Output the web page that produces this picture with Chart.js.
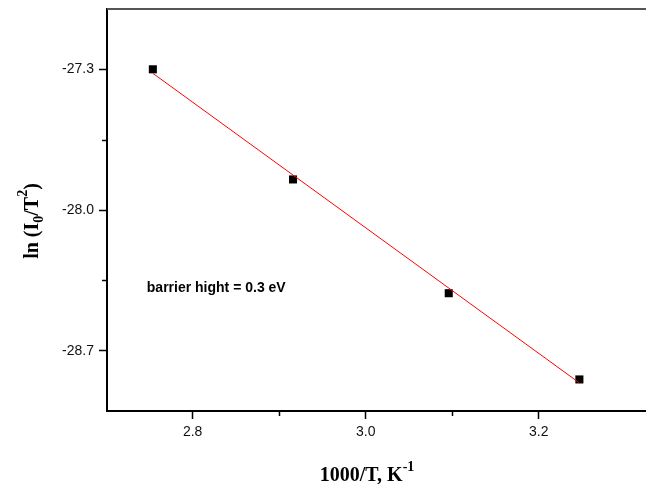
<!DOCTYPE html>
<html>
<head>
<meta charset="utf-8">
<script src="https://cdn.jsdelivr.net/npm/chart.js@4"></script>
<style>
  html, body { margin: 0; padding: 0; background: #fff; overflow: hidden; }
  canvas { display: block; }
</style>
</head>
<body>
<canvas id="arrhenius" width="646" height="484"></canvas>
<script>
// ====================== DATA ======================
const invT = [2.754, 2.916, 3.096, 3.247];          // 1000/T, K^-1
const lnIT = [-27.30, -27.848, -28.414, -28.843];   // ln(I0/T^2)
const fitX = [2.754, 3.247];
const fitY = [-27.32, -28.86];
const xTicks = [2.8, 3.0, 3.2];
const xMinor = [2.9, 3.1];
const yTicks = [-27.3, -28.0, -28.7];
const yMinor = [-27.65, -28.35];
const note = { x: 2.747, y: -28.39, text: "barrier hight = 0.3 eV" };

// ====================== PLUGINS ======================

// minor ticks, top frame line, note and rich axis titles
const decor = {
  id: "decor",
  afterDraw(chart) {
    const { ctx, chartArea, scales } = chart;
    const xs = scales.x, ys = scales.y;
    ctx.save();

    // top frame
    ctx.strokeStyle = "#555";
    ctx.lineWidth = 2;
    ctx.beginPath();
    ctx.moveTo(chartArea.left, chartArea.top);
    ctx.lineTo(chartArea.right, chartArea.top);
    ctx.stroke();

    // minor ticks
    ctx.strokeStyle = "#000";
    ctx.lineWidth = 1.5;
    ctx.beginPath();
    xMinor.forEach((v) => {
      const px = Math.round(xs.getPixelForValue(v)) + 0.5;
      ctx.moveTo(px, chartArea.bottom);
      ctx.lineTo(px, chartArea.bottom + 5);
    });
    yMinor.forEach((v) => {
      const py = Math.round(ys.getPixelForValue(v)) + 0.5;
      ctx.moveTo(chartArea.left, py);
      ctx.lineTo(chartArea.left - 5, py);
    });
    ctx.stroke();

    // note
    ctx.fillStyle = "#000";
    ctx.font = "bold 14px 'Liberation Sans', Arial, sans-serif";
    ctx.textBaseline = "middle";
    ctx.textAlign = "left";
    ctx.fillText(note.text, xs.getPixelForValue(note.x), ys.getPixelForValue(note.y));

    // x title: 1000/T, K^-1
    const big = "bold 20px 'Liberation Serif', 'Times New Roman', serif";
    const small = "bold 14px 'Liberation Serif', 'Times New Roman', serif";
    drawRich(ctx, 367, 481, [
      { t: "1000/T, K", f: big, dy: 0 },
      { t: "-1", f: small, dy: -10 },
    ], 0);

    // y title: ln (I0/T^2)
    drawRich(ctx, 38, 221, [
      { t: "ln (I", f: big, dy: 0 },
      { t: "0", f: small, dy: 5 },
      { t: "/T", f: big, dy: 0 },
      { t: "2", f: small, dy: -11 },
      { t: ")", f: big, dy: 0 },
    ], -Math.PI / 2);

    ctx.restore();
  },
};

// draw a sequence of text pieces centred at (cx, baseline cy)
function drawRich(ctx, cx, cy, parts, rot) {
  ctx.save();
  ctx.translate(cx, cy);
  ctx.rotate(rot);
  ctx.textBaseline = "alphabetic";
  ctx.textAlign = "left";
  let total = 0;
  parts.forEach((p) => {
    ctx.font = p.f;
    total += ctx.measureText(p.t).width;
  });
  let x = -total / 2;
  parts.forEach((p) => {
    ctx.font = p.f;
    ctx.fillText(p.t, x, p.dy);
    x += ctx.measureText(p.t).width;
  });
  ctx.restore();
}

// keep the plot box fixed: no extra room for edge labels
function fixBox(s, size) {
  if (s.isHorizontal()) s.height = size; else s.width = size;
  s.paddingLeft = 0;
  s.paddingRight = 0;
  s.paddingTop = 0;
  s.paddingBottom = 0;
}

// ====================== CHART ======================

const tickFont = { family: "'Liberation Sans', Arial, sans-serif", size: 14 };

new Chart(document.getElementById("arrhenius"), {
  type: "scatter",
  data: {
    datasets: [
      {
        label: "fit",
        data: fitX.map((x, i) => ({ x, y: fitY[i] })),
        showLine: true,
        borderColor: "#ff0000",
        borderWidth: 1,
        pointRadius: 0,
      },
      {
        label: "data",
        data: invT.map((x, i) => ({ x, y: lnIT[i] })),
        pointStyle: "rect",
        pointRadius: 5.7,
        pointBorderWidth: 0,
        backgroundColor: "#000",
        borderColor: "#000",
      },
    ],
  },
  options: {
    responsive: false,
    animation: false,
    devicePixelRatio: 1,
    layout: { autoPadding: false, padding: { top: 9, right: 0, left: 0, bottom: 0 } },
    plugins: { legend: { display: false }, tooltip: { enabled: false } },
    scales: {
      x: {
        type: "linear",
        min: 2.701,
        max: 3.324,
        afterBuildTicks: (s) => { s.ticks = xTicks.map((v) => ({ value: v })); },
        afterFit: (s) => fixBox(s, 73),
        ticks: {
          color: "#111",
          font: tickFont,
          padding: 5,
          callback: (v) => Number(v).toFixed(1),
        },
        grid: { drawOnChartArea: false, tickLength: 8, tickColor: "#000", tickWidth: 1.5 },
        border: { color: "#000", width: 2 },
      },
      y: {
        type: "linear",
        min: -29.0,
        max: -27.0,
        afterBuildTicks: (s) => { s.ticks = yTicks.map((v) => ({ value: v })); },
        afterFit: (s) => fixBox(s, 107),
        ticks: {
          color: "#111",
          font: tickFont,
          padding: 5,
          callback: (v) => Number(v).toFixed(1),
        },
        grid: { drawOnChartArea: false, tickLength: 8, tickColor: "#000", tickWidth: 1.5 },
        border: { color: "#000", width: 2 },
      },
    },
  },
  plugins: [decor],
});
</script>
</body>
</html>
